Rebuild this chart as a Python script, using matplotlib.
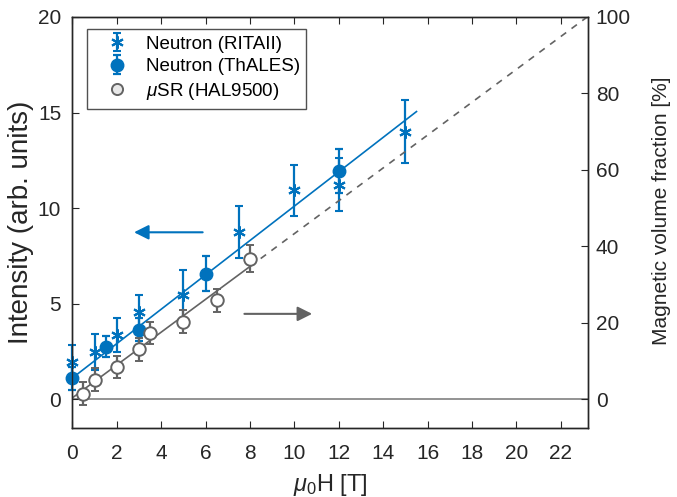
import numpy as np
import matplotlib
matplotlib.use('Agg')
import matplotlib.pyplot as plt

plt.rcParams['font.family'] = ['Liberation Sans', 'DejaVu Sans']
plt.rcParams['mathtext.fontset'] = 'custom'
plt.rcParams['mathtext.rm'] = 'Liberation Sans'
plt.rcParams['mathtext.it'] = 'Liberation Sans:italic'
plt.rcParams['font.size'] = 15

BLUE = '#0072BD'
GRAY = '#636363'
AX = '#262626'

# Neutron (RITAII): field [T], intensity, error
rita_h = [0.0, 1.0, 2.0, 3.0, 5.0, 7.5, 10.0, 12.0, 15.0]
rita_i = [1.92, 2.48, 3.34, 4.55, 5.43, 8.75, 10.92, 11.22, 14.0]
rita_e = [0.9, 0.94, 0.88, 0.9, 1.3, 1.35, 1.34, 1.4, 1.64]

# Neutron (ThALES)
thales_h = [0.0, 1.5, 3.0, 6.0, 12.0]
thales_i = [1.1, 2.74, 3.64, 6.57, 11.96]
thales_e = [0.6, 0.55, 0.6, 0.9, 1.15]

# muSR (HAL9500): magnetic volume fraction [%]
musr_h = [0.5, 1.0, 2.0, 3.0, 3.5, 5.0, 6.5, 8.0]
musr_v = [1.4, 5.1, 8.5, 13.0, 17.2, 20.3, 25.8, 36.7]
musr_e = [3.0, 3.0, 2.9, 3.1, 2.9, 3.0, 3.1, 3.5]

# linear fits
neutron_fit = (1.1, 0.90)   # intercept, slope
musr_fit = (0.3, 4.30)

fig = plt.figure(figsize=(6.77, 4.97), dpi=100)
ax = fig.add_axes([0.1068, 0.1394, 0.761, 0.8264])
ax2 = ax.twinx()

# zero line
ax.axhline(0, color='#808080', lw=1.2, zorder=1)

# fits
h = np.array([0, 15.5])
ax.plot(h, neutron_fit[0] + neutron_fit[1] * h, color=BLUE, lw=1.2, zorder=2)
h1 = np.array([0, 8])
h2 = np.array([8, 23.2])
ax2.plot(h1, musr_fit[0] + musr_fit[1] * h1, color=GRAY, lw=1.2, zorder=2)
ax2.plot(h2, musr_fit[0] + musr_fit[1] * h2, color=GRAY, lw=1.2, ls=(0, (4, 4)), zorder=2)

ekw = dict(capsize=3, elinewidth=1.6, capthick=1.6, ls='none')
r = ax.errorbar(rita_h, rita_i, yerr=rita_e, color=BLUE, marker=(6, 2, 0),
                ms=9, mew=1.5, label='Neutron (RITAII)', zorder=4, **ekw)
t = ax.errorbar(thales_h, thales_i, yerr=thales_e, color=BLUE, marker='o',
                ms=9, label='Neutron (ThALES)', zorder=4, **ekw)
m = ax2.errorbar(musr_h, musr_v, yerr=musr_e, color=GRAY, marker='o', ms=9,
                 mfc='white', mec=GRAY, mew=1.4, zorder=4, **ekw)
# markers at H = 0 sit on the axis and are not cut off
for cont in (r, t, m):
    for art in cont.get_children():
        art.set_clip_on(False)

mleg, = ax.plot([], [], ls='none', marker='o', ms=8, mfc='#e8e8e8', mec=GRAY,
                mew=1.4, label=r'$\mu$SR (HAL9500)')

# arrows
ax.annotate('', xy=(2.78, 8.73), xytext=(5.87, 8.73),
            arrowprops=dict(arrowstyle='-|>', color=BLUE, lw=1.5,
                            mutation_scale=22, shrinkA=0, shrinkB=0))
ax.annotate('', xy=(10.8, 4.46), xytext=(7.75, 4.46),
            arrowprops=dict(arrowstyle='-|>', color=GRAY, lw=1.5,
                            mutation_scale=22, shrinkA=0, shrinkB=0))

ax.set_xlim(0, 23.2)
ax.set_ylim(-1.5, 20)
ax2.set_ylim(-7.5, 100)
ax.set_xticks(np.arange(0, 23, 2))
ax.set_yticks([0, 5, 10, 15, 20])
ax2.set_yticks([0, 20, 40, 60, 80, 100])

ax.set_xlabel(r'$\mu_0$H [T]', color=AX, fontsize=17, labelpad=6)
ax.set_ylabel('Intensity (arb. units)', color=AX, fontsize=20, labelpad=3)
ax2.set_ylabel('Magnetic volume fraction [%]', color=AX, fontsize=15)
ax2.yaxis.set_label_coords(1.125, 0.528)

ax.tick_params(axis='x', direction='in', top=True, length=5, colors=AX, pad=12)
ax.tick_params(axis='y', direction='in', length=5, colors=AX, pad=8)
ax2.tick_params(axis='y', direction='in', length=5, colors=AX, pad=6)
for a in (ax, ax2):
    for s in a.spines.values():
        s.set_color(AX)
        s.set_linewidth(1.0)

leg = ax.legend(handles=[r, t, mleg], loc='upper left',
                bbox_to_anchor=(0.028, 0.971), borderaxespad=0, fontsize=13.5,
                frameon=True, fancybox=False, edgecolor=AX, borderpad=0.35,
                handletextpad=0.3, labelspacing=0.3, handlelength=2.5)
leg.get_frame().set_linewidth(1.0)

fig.savefig('out.png', dpi=100)
